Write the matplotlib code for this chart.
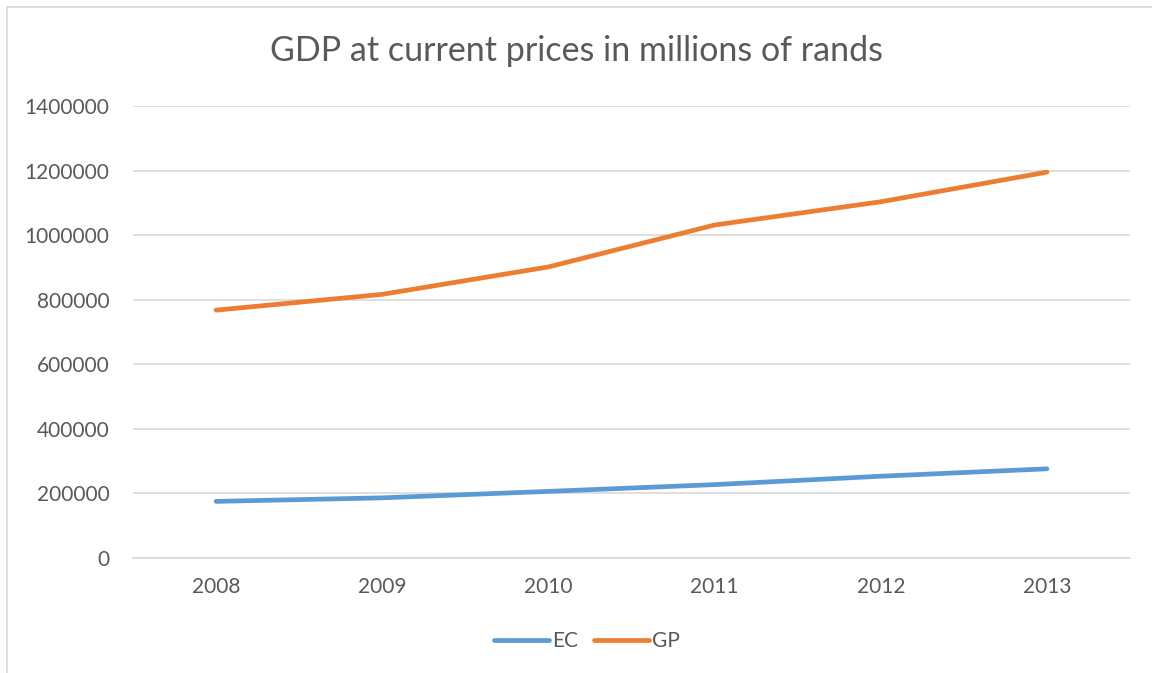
import matplotlib
matplotlib.use('Agg')
import matplotlib.pyplot as plt
from matplotlib.patches import Rectangle

years = ['2008', '2009', '2010', '2011', '2012', '2013']
ec_gdp = [174000, 185000, 205000, 226000, 252000, 275000]
gp_gdp = [767000, 816000, 901000, 1031000, 1103000, 1195000]
y_ticks = [0, 200000, 400000, 600000, 800000, 1000000, 1200000, 1400000]

text_color = '#595959'
grid_color = '#d9d9d9'
plt.rcParams['font.family'] = ['Lato', 'DejaVu Sans']

fig = plt.figure(figsize=(11.52, 6.73), dpi=100)
fig.patch.set_facecolor('white')

# chart frame (only top and left edges show in the reference)
fig.patches.append(Rectangle((7 / 1152, -0.1), 1.2, 1 - 7 / 673 + 0.1,
                             transform=fig.transFigure, fill=False,
                             edgecolor=grid_color, linewidth=1.2))

ax = fig.add_axes([133 / 1152, 1 - 557.5 / 673, (1130 - 133) / 1152, (557.5 - 106) / 673])
x = range(len(years))
ax.plot(x, ec_gdp, color='#5B9BD5', linewidth=3.4, solid_capstyle='round',
        solid_joinstyle='round', label='EC', zorder=3)
ax.plot(x, gp_gdp, color='#ED7D31', linewidth=3.4, solid_capstyle='round',
        solid_joinstyle='round', label='GP', zorder=3)

ax.set_xlim(-0.5, len(years) - 0.5)
ax.set_ylim(0, 1400000)
ax.set_xticks(list(x))
ax.set_xticklabels(years)
ax.set_yticks(y_ticks)
ax.set_yticklabels([str(v) for v in y_ticks])
ax.tick_params(length=0, labelsize=15, colors=text_color)
ax.tick_params(axis='y', pad=17)
ax.tick_params(axis='x', pad=14)
ax.grid(axis='y', color=grid_color, linewidth=1.2)
ax.set_axisbelow(True)
for side in ['top', 'right', 'left']:
    ax.spines[side].set_visible(False)
ax.spines['bottom'].set_color(grid_color)
ax.spines['bottom'].set_linewidth(1.2)

fig.text(0.5, 1 - 51 / 673, 'GDP at current prices in millions of rands',
         ha='center', va='center', fontsize=24.5, color=text_color)

fig.legend(loc='center', bbox_to_anchor=(587 / 1152, 1 - 641 / 673), ncol=2,
           frameon=False, fontsize=15, labelcolor=text_color,
           handlelength=2.6, handletextpad=0.15, columnspacing=0.8)

fig.savefig('out.png', dpi=100)
